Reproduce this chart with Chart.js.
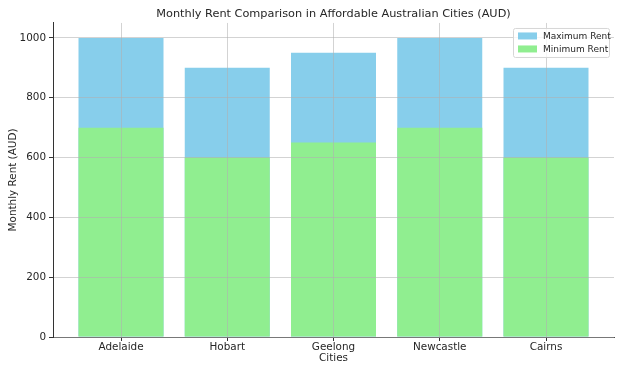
<!DOCTYPE html>
<html>
<head>
<meta charset="utf-8">
<script src="https://cdn.jsdelivr.net/npm/chart.js@4.4.1/dist/chart.umd.min.js"></script>
<style>
 html, body { margin: 0; padding: 0; background: #fff; }
 #wrap { width: 624px; height: 374px; }
</style>
</head>
<body>
<div id="wrap"><canvas id="rentChart" width="624" height="374"></canvas></div>
<script>
const cities = ["Adelaide", "Hobart", "Geelong", "Newcastle", "Cairns"];
const maxRent = [1000, 900, 950, 1000, 900];
const minRent = [700, 600, 650, 700, 600];
const yTicks = [0, 200, 400, 600, 800, 1000];

const FONT = "'DejaVu Sans', sans-serif";
const gridStyle = {
 color: "rgba(176,176,176,0.7)",
 lineWidth: 0.8,
 borderDash: [2, 2.5],
 z: 1,
 offset: false,
 tickLength: 4,
 tickColor: "#333",
 tickBorderDash: [],
 tickWidth: 1
};

// legend box in the top right corner of the plot area
const legendBox = {
 id: "legendBox",
 afterDraw(chart) {
 const c = chart.ctx, a = chart.chartArea;
 const w = 96, h = 29, x = a.right - w - 5, y = a.top + 5;
 c.save();
 c.fillStyle = "rgba(255,255,255,0.8)";
 c.strokeStyle = "#d6d6d6";
 c.lineWidth = 1;
 c.beginPath();
 c.roundRect(x + 0.5, y + 0.5, w, h, 2);
 c.fill();
 c.stroke();
 c.font = "9px " + FONT;
 c.textBaseline = "middle";
 chart.data.datasets.forEach((ds, i) => {
 const ry = y + 8 + i * 13;
 c.fillStyle = ds.backgroundColor;
 c.fillRect(x + 5, ry - 3.5, 19, 7);
 c.fillStyle = "#262626";
 c.fillText(ds.label, x + 30, ry + 0.5);
 });
 c.restore();
 }
};

new Chart(document.getElementById("rentChart"), {
 type: "bar",
 data: {
 datasets: [
 {
 label: "Maximum Rent",
 data: maxRent.map((v, i) => ({ x: i, y: v })),
 backgroundColor: "#87CEEB",
 order: 1
 },
 {
 label: "Minimum Rent",
 data: minRent.map((v, i) => ({ x: i, y: v })),
 backgroundColor: "#90EE90",
 order: 0
 }
 ]
 },
 options: {
 responsive: false,
 animation: false,
 layout: { padding: { left: 0, right: 10, top: 0, bottom: 0 } },
 datasets: { bar: { grouped: false, barPercentage: 1, categoryPercentage: 0.8 } },
 plugins: {
 legend: { display: false },
 tooltip: { enabled: false },
 title: {
 display: true,
 fullSize: false,
 text: "Monthly Rent Comparison in Affordable Australian Cities (AUD)",
 color: "#262626",
 font: { family: FONT, size: 11.3, weight: "normal" },
 padding: { top: 7, bottom: 2.4 }
 }
 },
 scales: {
 x: {
 type: "linear",
 offset: false,
 min: -0.64,
 max: 4.64,
 afterBuildTicks: s => { s.ticks = cities.map((c, i) => ({ value: i })); },
 afterFit: s => { s.height = 37; },
 ticks: {
 callback: v => cities[v],
 color: "#262626",
 font: { family: FONT, size: 10.4 },
 padding: 0,
 maxRotation: 0,
 autoSkip: false
 },
 grid: gridStyle,
 border: { color: "#333", width: 1, z: 1 },
 title: {
 display: true,
 text: "Cities",
 color: "#262626",
 font: { family: FONT, size: 10.4 },
 padding: { top: 0, bottom: 9 }
 }
 },
 y: {
 min: 0,
 max: 1050,
 afterBuildTicks: s => { s.ticks = yTicks.map(v => ({ value: v })); },
 afterFit: s => { s.width = 53; },
 ticks: {
 callback: v => String(v),
 color: "#262626",
 font: { family: FONT, size: 10.4 },
 padding: 3
 },
 grid: gridStyle,
 border: { color: "#333", width: 1, z: 1 },
 title: {
 display: true,
 text: "Monthly Rent (AUD)",
 color: "#262626",
 font: { family: FONT, size: 10.4 },
 padding: { top: 7, bottom: 0 }
 }
 }
 }
 },
 plugins: [legendBox]
});
</script>
</body>
</html>
